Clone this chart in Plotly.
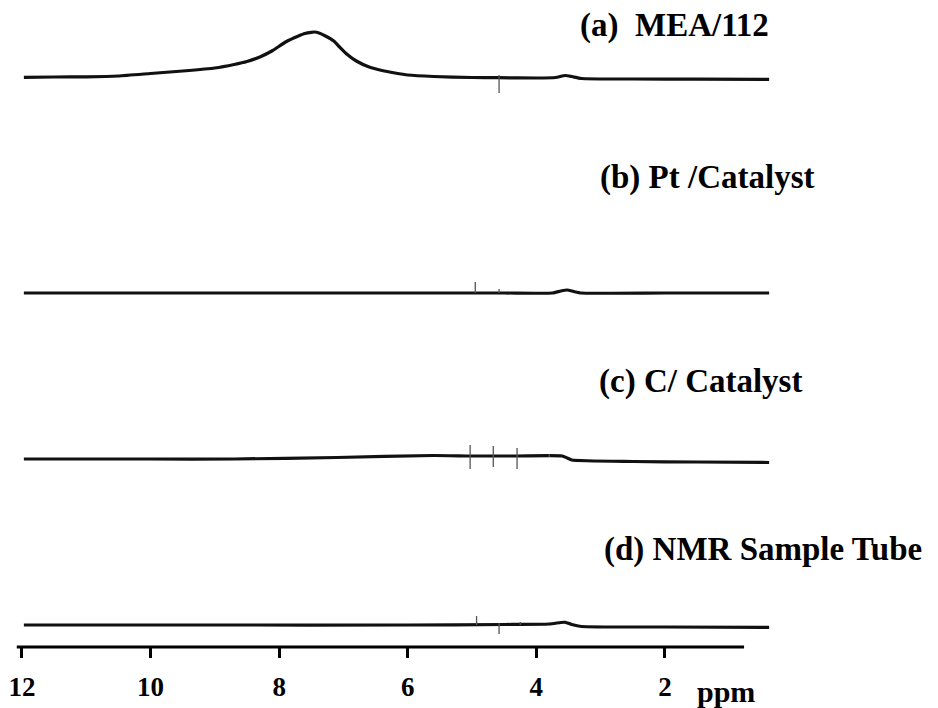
import plotly.graph_objects as go

# ---- data (ppm, intensity in a.u. above each spectrum's baseline) ----
tick_vals = [12, 10, 8, 6, 4, 2]
tick_text = ["12", "10", "8", "6", "4", "2"]

labels = ["(a)&nbsp; MEA/112", "(b) Pt /Catalyst", "(c) C/ Catalyst", "(d) NMR Sample Tube"]

ppm_a = [11.97, 11.5, 11.0, 10.5, 10.0, 9.5, 9.0, 8.7, 8.5, 8.3, 8.1, 7.9, 7.7, 7.6, 7.5, 7.45,
         7.38, 7.28, 7.15, 7.06, 6.95, 6.8, 6.6, 6.4, 6.2, 6.0, 5.6, 5.0, 4.6, 4.0, 3.7, 3.55,
         3.45, 3.3, 2.5, 1.5, 0.38]
int_a = [0.7, 1.0, 1.2, 2.0, 4.5, 7.0, 10.0, 13.5, 16.5, 21.0, 27.5, 36.0, 42.0, 44.5, 45.7, 46.0,
         45.0, 42.0, 37.0, 31.0, 24.0, 17.0, 11.0, 7.5, 5.0, 3.0, 1.5, 0.5, 0.3, 0.0, 0.5, 2.5,
         1.5, -0.5, -1.0, -1.2, -1.3]

ppm_b = [11.97, 9.0, 6.0, 4.5, 3.75, 3.62, 3.52, 3.42, 3.3, 2.0, 0.38]
int_b = [0.0, 0.0, 0.0, 0.0, 0.0, 2.0, 3.0, 1.5, 0.0, 0.0, 0.0]

ppm_c = [11.97, 10.0, 8.7, 7.1, 5.6, 5.0, 4.3, 3.6, 3.52, 3.45, 2.5, 1.5, 0.38]
int_c = [0.0, 0.0, 0.0, 1.5, 3.5, 3.0, 3.0, 3.0, 1.0, -1.0, -2.5, -3.0, -3.5]

ppm_d = [11.97, 9.0, 6.0, 4.5, 3.8, 3.62, 3.55, 3.45, 3.3, 2.0, 0.38]
int_d = [0.0, 0.0, 0.0, 0.5, 1.0, 2.5, 2.7, 0.5, -1.5, -2.0, -2.3]

# narrow spikes: position, top, bottom
spk_a_ppm = [4.58]
spk_a_top = [3.0]
spk_a_bot = [-15.0]
spk_b_ppm = [4.95, 4.58]
spk_b_top = [11.0, 4.0]
spk_b_bot = [0.0, 0.0]
spk_c_ppm = [5.03, 4.67, 4.30, 3.80]
spk_c_top = [14.0, 13.0, 11.0, 5.0]
spk_c_bot = [-10.0, -8.0, -10.0, 2.0]
spk_d_ppm = [4.93, 4.58, 4.25]
spk_d_top = [9.0, 2.0, 3.0]
spk_d_bot = [0.0, -9.0, 0.0]

spectra = [
    (ppm_a, int_a, spk_a_ppm, spk_a_top, spk_a_bot),
    (ppm_b, int_b, spk_b_ppm, spk_b_top, spk_b_bot),
    (ppm_c, int_c, spk_c_ppm, spk_c_top, spk_c_bot),
    (ppm_d, int_d, spk_d_ppm, spk_d_top, spk_d_bot),
]

# ---- layout helpers (the page body adds an 8px offset) ----
W, H = 930, 700
plot_h = 639.0
baselines_px = [70, 285, 451, 617]  # pixel rows of the spectrum baselines
label_pos_px = [(568, 18), (588, 169), (587, 373), (592, 541)]

fig = go.Figure()
for i, (px, iy, sp, st, sb) in enumerate(spectra):
    ya = "y" if i == 0 else f"y{i+1}"
    fig.add_trace(go.Scatter(x=px, y=iy, mode="lines", xaxis="x", yaxis=ya,
                             line=dict(color="#111111", width=3.2, shape="spline", smoothing=0.5),
                             hoverinfo="skip", showlegend=False))
    sx, syy = [], []
    for p, t, b in zip(sp, st, sb):
        sx += [p, p, None]
        syy += [t, b, None]
    fig.add_trace(go.Scatter(x=sx, y=syy, mode="lines", xaxis="x", yaxis=ya,
                             line=dict(color="#555555", width=1.3),
                             hoverinfo="skip", showlegend=False))

layout = dict(
    width=W, height=H,
    margin=dict(l=0, r=0, t=0, b=int(H - plot_h)),
    paper_bgcolor="white", plot_bgcolor="white",
    xaxis=dict(range=[12.139, -2.246], showgrid=False, zeroline=False, showline=False,
               anchor="free", position=0, ticklabeloverflow="allow", ticklabelstandoff=6,
               tickvals=tick_vals, ticktext=tick_text, ticks="outside", ticklen=10,
               tickwidth=3, tickcolor="black",
               tickfont=dict(family="Liberation Serif", size=27, color="black", weight=700)),
)
for i, base in enumerate(baselines_px):
    bottom = base + 20
    top = base - 60
    key = "yaxis" if i == 0 else f"yaxis{i+1}"
    layout[key] = dict(domain=[(plot_h - bottom) / plot_h, (plot_h - top) / plot_h],
                       range=[-20, 60], visible=False, fixedrange=True, anchor="x")
fig.update_layout(**layout)

# x-axis baseline line (shorter than the spectra)
fig.add_shape(type="line", xref="x", yref="paper", x0=12.08, x1=0.77, y0=0, y1=0,
              line=dict(color="black", width=3))

for (lx, ly), txt in zip(label_pos_px, labels):
    fig.add_annotation(x=lx / W, y=(plot_h - ly) / plot_h, xref="paper", yref="paper",
                       text=txt, showarrow=False, xanchor="left", yanchor="middle",
                       font=dict(family="Liberation Serif", size=33, color="black", weight=700))

fig.add_annotation(x=717 / W, y=(plot_h - 683) / plot_h, xref="paper", yref="paper",
                   text="ppm", showarrow=False, xanchor="center", yanchor="middle",
                   font=dict(family="Liberation Serif", size=30, color="black", weight=700))

fig.write_html("out.html")
